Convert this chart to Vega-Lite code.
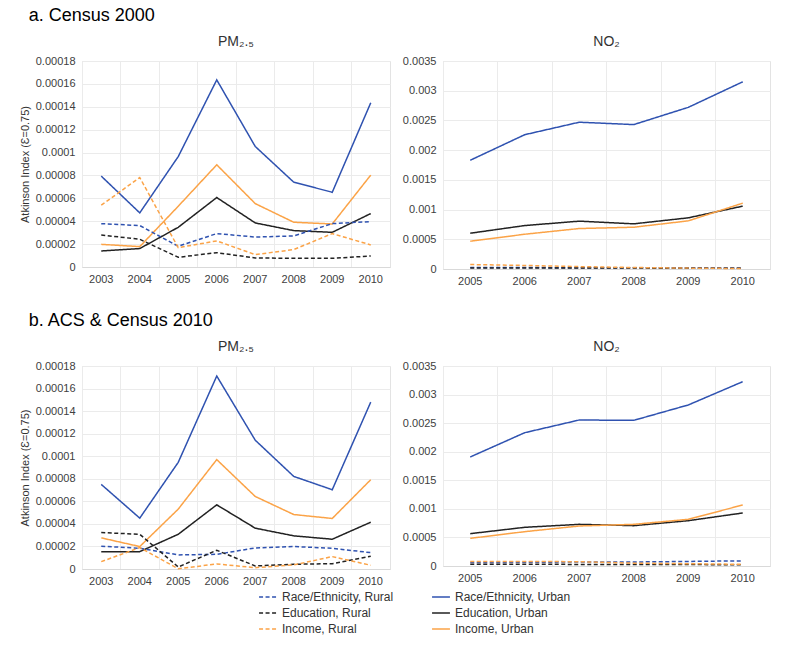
{
  "$schema": "https://vega.github.io/schema/vega-lite/v6.json",
  "background": "white",
  "padding": {"left": 18, "top": 6, "right": 10, "bottom": 2},
  "spacing": 24,
  "config": {
    "font": "Liberation Sans",
    "view": {"stroke": "#e3e3e3"},
    "axis": {"labelFont": "Liberation Sans", "labelFontSize": 11, "labelColor": "#404040", "titleFont": "Liberation Sans", "titleFontWeight": "normal", "titleFontSize": 11, "titleColor": "#333333", "gridColor": "#ebebeb", "gridWidth": 1},
    "title": {"font": "Liberation Sans", "fontWeight": "normal", "color": "#333333", "fontSize": 14},
    "legend": {"labelFont": "Liberation Sans", "labelFontSize": 12, "labelColor": "#333333"},
    "concat": {"spacing": 10}
  },
  "datasets": {
    "aPM": [
      {"series": "Race/Ethnicity, Urban", "year": 2003, "value": 0.0000794},
      {"series": "Race/Ethnicity, Urban", "year": 2004, "value": 0.0000473},
      {"series": "Race/Ethnicity, Urban", "year": 2005, "value": 0.0000965},
      {"series": "Race/Ethnicity, Urban", "year": 2006, "value": 0.0001635},
      {"series": "Race/Ethnicity, Urban", "year": 2007, "value": 0.0001053},
      {"series": "Race/Ethnicity, Urban", "year": 2008, "value": 0.0000741},
      {"series": "Race/Ethnicity, Urban", "year": 2009, "value": 0.0000653},
      {"series": "Race/Ethnicity, Urban", "year": 2010, "value": 0.0001435},
      {"series": "Income, Urban", "year": 2003, "value": 0.0000198},
      {"series": "Income, Urban", "year": 2004, "value": 0.0000178},
      {"series": "Income, Urban", "year": 2005, "value": 0.0000531},
      {"series": "Income, Urban", "year": 2006, "value": 0.0000893},
      {"series": "Income, Urban", "year": 2007, "value": 0.0000554},
      {"series": "Income, Urban", "year": 2008, "value": 0.0000391},
      {"series": "Income, Urban", "year": 2009, "value": 0.0000376},
      {"series": "Income, Urban", "year": 2010, "value": 0.0000803},
      {"series": "Education, Urban", "year": 2003, "value": 0.000014},
      {"series": "Education, Urban", "year": 2004, "value": 0.0000161},
      {"series": "Education, Urban", "year": 2005, "value": 0.0000347},
      {"series": "Education, Urban", "year": 2006, "value": 0.0000607},
      {"series": "Education, Urban", "year": 2007, "value": 0.0000385},
      {"series": "Education, Urban", "year": 2008, "value": 0.0000318},
      {"series": "Education, Urban", "year": 2009, "value": 0.0000303},
      {"series": "Education, Urban", "year": 2010, "value": 0.0000467},
      {"series": "Race/Ethnicity, Rural", "year": 2003, "value": 0.0000379},
      {"series": "Race/Ethnicity, Rural", "year": 2004, "value": 0.0000362},
      {"series": "Race/Ethnicity, Rural", "year": 2005, "value": 0.0000181},
      {"series": "Race/Ethnicity, Rural", "year": 2006, "value": 0.0000292},
      {"series": "Race/Ethnicity, Rural", "year": 2007, "value": 0.0000262},
      {"series": "Race/Ethnicity, Rural", "year": 2008, "value": 0.0000271},
      {"series": "Race/Ethnicity, Rural", "year": 2009, "value": 0.0000379},
      {"series": "Race/Ethnicity, Rural", "year": 2010, "value": 0.0000397},
      {"series": "Education, Rural", "year": 2003, "value": 0.000028},
      {"series": "Education, Rural", "year": 2004, "value": 0.0000242},
      {"series": "Education, Rural", "year": 2005, "value": 0.0000085},
      {"series": "Education, Rural", "year": 2006, "value": 0.0000125},
      {"series": "Education, Rural", "year": 2007, "value": 0.0000079},
      {"series": "Education, Rural", "year": 2008, "value": 0.0000076},
      {"series": "Education, Rural", "year": 2009, "value": 0.0000076},
      {"series": "Education, Rural", "year": 2010, "value": 0.0000096},
      {"series": "Income, Rural", "year": 2003, "value": 0.000054},
      {"series": "Income, Rural", "year": 2004, "value": 0.0000782},
      {"series": "Income, Rural", "year": 2005, "value": 0.0000169},
      {"series": "Income, Rural", "year": 2006, "value": 0.0000228},
      {"series": "Income, Rural", "year": 2007, "value": 0.0000108},
      {"series": "Income, Rural", "year": 2008, "value": 0.0000152},
      {"series": "Income, Rural", "year": 2009, "value": 0.0000292},
      {"series": "Income, Rural", "year": 2010, "value": 0.0000193}
    ],
    "aNO2": [
      {"series": "Race/Ethnicity, Urban", "year": 2005, "value": 0.00183},
      {"series": "Race/Ethnicity, Urban", "year": 2006, "value": 0.00226},
      {"series": "Race/Ethnicity, Urban", "year": 2007, "value": 0.00247},
      {"series": "Race/Ethnicity, Urban", "year": 2008, "value": 0.00243},
      {"series": "Race/Ethnicity, Urban", "year": 2009, "value": 0.00272},
      {"series": "Race/Ethnicity, Urban", "year": 2010, "value": 0.00315},
      {"series": "Education, Urban", "year": 2005, "value": 0.000602},
      {"series": "Education, Urban", "year": 2006, "value": 0.000731},
      {"series": "Education, Urban", "year": 2007, "value": 0.000805},
      {"series": "Education, Urban", "year": 2008, "value": 0.00076},
      {"series": "Education, Urban", "year": 2009, "value": 0.000861},
      {"series": "Education, Urban", "year": 2010, "value": 0.001058},
      {"series": "Income, Urban", "year": 2005, "value": 0.000467},
      {"series": "Income, Urban", "year": 2006, "value": 0.000585},
      {"series": "Income, Urban", "year": 2007, "value": 0.000681},
      {"series": "Income, Urban", "year": 2008, "value": 0.000703},
      {"series": "Income, Urban", "year": 2009, "value": 0.00081},
      {"series": "Income, Urban", "year": 2010, "value": 0.001108},
      {"series": "Race/Ethnicity, Rural", "year": 2005, "value": 0.000025},
      {"series": "Race/Ethnicity, Rural", "year": 2006, "value": 0.000024},
      {"series": "Race/Ethnicity, Rural", "year": 2007, "value": 0.000022},
      {"series": "Race/Ethnicity, Rural", "year": 2008, "value": 0.00002},
      {"series": "Race/Ethnicity, Rural", "year": 2009, "value": 0.00002},
      {"series": "Race/Ethnicity, Rural", "year": 2010, "value": 0.000018},
      {"series": "Education, Rural", "year": 2005, "value": 0.000018},
      {"series": "Education, Rural", "year": 2006, "value": 0.000017},
      {"series": "Education, Rural", "year": 2007, "value": 0.000016},
      {"series": "Education, Rural", "year": 2008, "value": 0.000015},
      {"series": "Education, Rural", "year": 2009, "value": 0.000014},
      {"series": "Education, Rural", "year": 2010, "value": 0.000013},
      {"series": "Income, Rural", "year": 2005, "value": 0.000075},
      {"series": "Income, Rural", "year": 2006, "value": 0.00006},
      {"series": "Income, Rural", "year": 2007, "value": 0.00004},
      {"series": "Income, Rural", "year": 2008, "value": 0.000025},
      {"series": "Income, Rural", "year": 2009, "value": 0.000015},
      {"series": "Income, Rural", "year": 2010, "value": 0.000008}
    ],
    "bPM": [
      {"series": "Race/Ethnicity, Urban", "year": 2003, "value": 0.000075},
      {"series": "Race/Ethnicity, Urban", "year": 2004, "value": 0.0000451},
      {"series": "Race/Ethnicity, Urban", "year": 2005, "value": 0.0000946},
      {"series": "Race/Ethnicity, Urban", "year": 2006, "value": 0.0001711},
      {"series": "Race/Ethnicity, Urban", "year": 2007, "value": 0.0001142},
      {"series": "Race/Ethnicity, Urban", "year": 2008, "value": 0.0000821},
      {"series": "Race/Ethnicity, Urban", "year": 2009, "value": 0.0000703},
      {"series": "Race/Ethnicity, Urban", "year": 2010, "value": 0.000148},
      {"series": "Income, Urban", "year": 2003, "value": 0.0000276},
      {"series": "Income, Urban", "year": 2004, "value": 0.0000199},
      {"series": "Income, Urban", "year": 2005, "value": 0.0000531},
      {"series": "Income, Urban", "year": 2006, "value": 0.000097},
      {"series": "Income, Urban", "year": 2007, "value": 0.0000643},
      {"series": "Income, Urban", "year": 2008, "value": 0.0000483},
      {"series": "Income, Urban", "year": 2009, "value": 0.0000448},
      {"series": "Income, Urban", "year": 2010, "value": 0.0000792},
      {"series": "Education, Urban", "year": 2003, "value": 0.0000154},
      {"series": "Education, Urban", "year": 2004, "value": 0.0000154},
      {"series": "Education, Urban", "year": 2005, "value": 0.0000308},
      {"series": "Education, Urban", "year": 2006, "value": 0.0000569},
      {"series": "Education, Urban", "year": 2007, "value": 0.0000362},
      {"series": "Education, Urban", "year": 2008, "value": 0.0000294},
      {"series": "Education, Urban", "year": 2009, "value": 0.0000264},
      {"series": "Education, Urban", "year": 2010, "value": 0.0000415},
      {"series": "Race/Ethnicity, Rural", "year": 2003, "value": 0.0000202},
      {"series": "Race/Ethnicity, Rural", "year": 2004, "value": 0.0000184},
      {"series": "Race/Ethnicity, Rural", "year": 2005, "value": 0.0000125},
      {"series": "Race/Ethnicity, Rural", "year": 2006, "value": 0.000013},
      {"series": "Race/Ethnicity, Rural", "year": 2007, "value": 0.0000187},
      {"series": "Race/Ethnicity, Rural", "year": 2008, "value": 0.0000199},
      {"series": "Race/Ethnicity, Rural", "year": 2009, "value": 0.0000184},
      {"series": "Race/Ethnicity, Rural", "year": 2010, "value": 0.0000145},
      {"series": "Education, Rural", "year": 2003, "value": 0.0000323},
      {"series": "Education, Rural", "year": 2004, "value": 0.0000308},
      {"series": "Education, Rural", "year": 2005, "value": 0.0000018},
      {"series": "Education, Rural", "year": 2006, "value": 0.0000166},
      {"series": "Education, Rural", "year": 2007, "value": 0.0000027},
      {"series": "Education, Rural", "year": 2008, "value": 0.0000042},
      {"series": "Education, Rural", "year": 2009, "value": 0.0000047},
      {"series": "Education, Rural", "year": 2010, "value": 0.0000113},
      {"series": "Income, Rural", "year": 2003, "value": 0.0000065},
      {"series": "Income, Rural", "year": 2004, "value": 0.000019},
      {"series": "Income, Rural", "year": 2005, "value": 0.0000002},
      {"series": "Income, Rural", "year": 2006, "value": 0.0000045},
      {"series": "Income, Rural", "year": 2007, "value": 0.0000012},
      {"series": "Income, Rural", "year": 2008, "value": 0.0000036},
      {"series": "Income, Rural", "year": 2009, "value": 0.000011},
      {"series": "Income, Rural", "year": 2010, "value": 0.0000033}
    ],
    "bNO2": [
      {"series": "Race/Ethnicity, Urban", "year": 2005, "value": 0.001908},
      {"series": "Race/Ethnicity, Urban", "year": 2006, "value": 0.002333},
      {"series": "Race/Ethnicity, Urban", "year": 2007, "value": 0.002555},
      {"series": "Race/Ethnicity, Urban", "year": 2008, "value": 0.002549},
      {"series": "Race/Ethnicity, Urban", "year": 2009, "value": 0.002818},
      {"series": "Race/Ethnicity, Urban", "year": 2010, "value": 0.003226},
      {"series": "Education, Urban", "year": 2005, "value": 0.000566},
      {"series": "Education, Urban", "year": 2006, "value": 0.000677},
      {"series": "Education, Urban", "year": 2007, "value": 0.000729},
      {"series": "Education, Urban", "year": 2008, "value": 0.000706},
      {"series": "Education, Urban", "year": 2009, "value": 0.000793},
      {"series": "Education, Urban", "year": 2010, "value": 0.000928},
      {"series": "Income, Urban", "year": 2005, "value": 0.000484},
      {"series": "Income, Urban", "year": 2006, "value": 0.000601},
      {"series": "Income, Urban", "year": 2007, "value": 0.0007},
      {"series": "Income, Urban", "year": 2008, "value": 0.000729},
      {"series": "Income, Urban", "year": 2009, "value": 0.000817},
      {"series": "Income, Urban", "year": 2010, "value": 0.001068},
      {"series": "Race/Ethnicity, Rural", "year": 2005, "value": 0.00006},
      {"series": "Race/Ethnicity, Rural", "year": 2006, "value": 0.000065},
      {"series": "Race/Ethnicity, Rural", "year": 2007, "value": 0.00007},
      {"series": "Race/Ethnicity, Rural", "year": 2008, "value": 0.00007},
      {"series": "Race/Ethnicity, Rural", "year": 2009, "value": 0.00008},
      {"series": "Race/Ethnicity, Rural", "year": 2010, "value": 0.00009},
      {"series": "Education, Rural", "year": 2005, "value": 0.00003},
      {"series": "Education, Rural", "year": 2006, "value": 0.00003},
      {"series": "Education, Rural", "year": 2007, "value": 0.000028},
      {"series": "Education, Rural", "year": 2008, "value": 0.000025},
      {"series": "Education, Rural", "year": 2009, "value": 0.000025},
      {"series": "Education, Rural", "year": 2010, "value": 0.000022},
      {"series": "Income, Rural", "year": 2005, "value": 0.00008},
      {"series": "Income, Rural", "year": 2006, "value": 0.00008},
      {"series": "Income, Rural", "year": 2007, "value": 0.000075},
      {"series": "Income, Rural", "year": 2008, "value": 0.00005},
      {"series": "Income, Rural", "year": 2009, "value": 0.00004},
      {"series": "Income, Rural", "year": 2010, "value": 0.00003}
    ]
  },
  "vconcat": [
    {
      "title": {"text": "a. Census 2000", "anchor": "start", "fontSize": 18, "color": "#000000", "offset": 10, "dx": 10},
      "hconcat": [
        {
          "width": 308, "height": 206,
          "title": {"text": "PM₂.₅", "offset": 6},
          "data": {"name": "aPM"},
          "layer": [
            {
              "mark": {"type": "point", "opacity": 0},
              "encoding": {
                "x": {"field": "year", "type": "ordinal", "scale": {"type": "band", "paddingInner": 0, "paddingOuter": 0}, "axis": {"orient": "top", "labels": false, "ticks": false, "domain": false, "grid": true, "bandPosition": 0, "title": null}}
              }
            },
            {
              "mark": {"type": "line", "strokeWidth": 1.5},
              "encoding": {
                "x": {"field": "year", "type": "ordinal", "axis": {"orient": "bottom", "grid": false, "ticks": false, "domainColor": "#d9d9d9", "labelAngle": 0, "title": null, "labelPadding": 6}},
                "y": {"field": "value", "type": "quantitative", "scale": {"domain": [0, 0.00018]}, "axis": {"values": [0, 0.00002, 0.00004, 0.00006, 0.00008, 0.0001, 0.00012, 0.00014, 0.00016, 0.00018], "format": "~g", "domain": false, "ticks": false, "labelPadding": 7, "title": "Atkinson Index (Ɛ=0.75)", "titlePadding": 5}},
                "color": {"field": "series", "type": "nominal", "scale": {"domain": ["Race/Ethnicity, Rural", "Race/Ethnicity, Urban", "Education, Rural", "Education, Urban", "Income, Rural", "Income, Urban"], "range": ["#2f52b0", "#2f52b0", "#222222", "#222222", "#fba347", "#fba347"]}, "legend": {"title": null, "orient": "none", "legendX": 176, "legendY": 526, "direction": "horizontal", "columns": 2, "columnPadding": 35, "rowPadding": -3, "symbolType": "stroke", "symbolSize": 320, "symbolStrokeWidth": 1.5, "labelOffset": 4}},
                "strokeDash": {"field": "series", "type": "nominal", "scale": {"domain": ["Race/Ethnicity, Rural", "Race/Ethnicity, Urban", "Education, Rural", "Education, Urban", "Income, Rural", "Income, Urban"], "range": [[4, 2.5], [1, 0], [4, 2.5], [1, 0], [4, 2.5], [1, 0]]}, "legend": {"title": null}}
              }
            }
          ]
        },
        {
          "width": 327, "height": 208,
          "title": {"text": "NO₂", "offset": 6},
          "data": {"name": "aNO2"},
          "layer": [
            {
              "mark": {"type": "point", "opacity": 0},
              "encoding": {
                "x": {"field": "year", "type": "ordinal", "scale": {"type": "band", "paddingInner": 0, "paddingOuter": 0}, "axis": {"orient": "top", "labels": false, "ticks": false, "domain": false, "grid": true, "bandPosition": 0, "title": null}}
              }
            },
            {
              "mark": {"type": "line", "strokeWidth": 1.5},
              "encoding": {
                "x": {"field": "year", "type": "ordinal", "axis": {"orient": "bottom", "grid": false, "ticks": false, "domainColor": "#d9d9d9", "labelAngle": 0, "title": null, "labelPadding": 6}},
                "y": {"field": "value", "type": "quantitative", "scale": {"domain": [0, 0.0035]}, "axis": {"values": [0, 0.0005, 0.001, 0.0015, 0.002, 0.0025, 0.003, 0.0035], "format": "~g", "domain": false, "ticks": false, "labelPadding": 7, "title": null}},
                "color": {"field": "series", "type": "nominal"},
                "strokeDash": {"field": "series", "type": "nominal"}
              }
            }
          ]
        }
      ]
    },
    {
      "title": {"text": "b. ACS & Census 2010", "anchor": "start", "fontSize": 18, "color": "#000000", "offset": 10, "dx": 10},
      "hconcat": [
        {
          "width": 308, "height": 203,
          "title": {"text": "PM₂.₅", "offset": 6},
          "data": {"name": "bPM"},
          "layer": [
            {
              "mark": {"type": "point", "opacity": 0},
              "encoding": {
                "x": {"field": "year", "type": "ordinal", "scale": {"type": "band", "paddingInner": 0, "paddingOuter": 0}, "axis": {"orient": "top", "labels": false, "ticks": false, "domain": false, "grid": true, "bandPosition": 0, "title": null}}
              }
            },
            {
              "mark": {"type": "line", "strokeWidth": 1.5},
              "encoding": {
                "x": {"field": "year", "type": "ordinal", "axis": {"orient": "bottom", "grid": false, "ticks": false, "domainColor": "#d9d9d9", "labelAngle": 0, "title": null, "labelPadding": 6}},
                "y": {"field": "value", "type": "quantitative", "scale": {"domain": [0, 0.00018]}, "axis": {"values": [0, 0.00002, 0.00004, 0.00006, 0.00008, 0.0001, 0.00012, 0.00014, 0.00016, 0.00018], "format": "~g", "domain": false, "ticks": false, "labelPadding": 7, "title": "Atkinson Index (Ɛ=0.75)", "titlePadding": 5}},
                "color": {"field": "series", "type": "nominal"},
                "strokeDash": {"field": "series", "type": "nominal"}
              }
            }
          ]
        },
        {
          "width": 327, "height": 200,
          "title": {"text": "NO₂", "offset": 6},
          "data": {"name": "bNO2"},
          "layer": [
            {
              "mark": {"type": "point", "opacity": 0},
              "encoding": {
                "x": {"field": "year", "type": "ordinal", "scale": {"type": "band", "paddingInner": 0, "paddingOuter": 0}, "axis": {"orient": "top", "labels": false, "ticks": false, "domain": false, "grid": true, "bandPosition": 0, "title": null}}
              }
            },
            {
              "mark": {"type": "line", "strokeWidth": 1.5},
              "encoding": {
                "x": {"field": "year", "type": "ordinal", "axis": {"orient": "bottom", "grid": false, "ticks": false, "domainColor": "#d9d9d9", "labelAngle": 0, "title": null, "labelPadding": 6}},
                "y": {"field": "value", "type": "quantitative", "scale": {"domain": [0, 0.0035]}, "axis": {"values": [0, 0.0005, 0.001, 0.0015, 0.002, 0.0025, 0.003, 0.0035], "format": "~g", "domain": false, "ticks": false, "labelPadding": 7, "title": null}},
                "color": {"field": "series", "type": "nominal"},
                "strokeDash": {"field": "series", "type": "nominal"}
              }
            }
          ]
        }
      ]
    }
  ]
}
